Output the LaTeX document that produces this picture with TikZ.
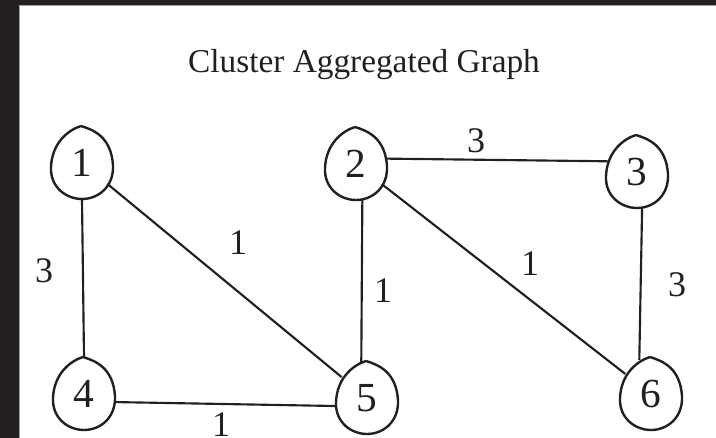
\documentclass[tikz,border=0pt]{standalone}
\usepackage{fontspec}
\setmainfont{Liberation Serif}
\usepackage{tikz}
\usetikzlibrary{shapes.geometric}
\definecolor{cInk}{RGB}{35,31,32}
\definecolor{cFrame}{RGB}{35,31,32}
\definecolor{cFrameEdge}{RGB}{160,160,160}
\tikzset{
  %% cluster nodes (ellipse is only the anchor shape, outline drawn below)
  cnode/.style={ellipse, draw=none, minimum width=45.75pt, minimum height=54.75pt,
                inner sep=0pt, font=\fontsize{31}{34}\selectfont, text=cInk},
  blobline/.style={draw=cInk, line width=1.8pt},
  %% edges and weights
  edge/.style={draw=cInk, line width=1.6pt},
  wlabel/.style={font=\fontsize{27}{30}\selectfont, text=cInk, inner sep=0pt},
}

\begin{document}
\begin{tikzpicture}[x=0.75pt, y=-0.75pt]

\useasboundingbox (0,0) rectangle (716,438);

%% -- frame (left and top bars) --
\fill[cFrame] (0,0) rectangle (19,438);
\fill[cFrame] (0,0) rectangle (716,5);
\draw[cFrameEdge, line width=0.75pt] (19.5,438) -- (19.5,5.5) -- (716,5.5);

%% -- title --
\node[font=\fontsize{25}{30}\selectfont, text=cInk, anchor=base] (title) at (364,73)
  {Cluster Aggregated Graph};

%% --- nodes ---
\node[cnode] (n1) at ( 82,163) {1};
\node[cnode] (n2) at (356,164) {2};
\node[cnode] (n3) at (637,172) {3};
\node[cnode] (n4) at ( 84,394) {4};
\node[cnode] (n5) at (367,398) {5};
\node[cnode] (n6) at (651,394) {6};

%% -- teardrop outlines --
\foreach \n in {n1,n2,n3,n4,n5,n6}
  \draw[blobline, shift={(\n)}]
    (-1,-37) .. controls (12,-33) and (29,-26) .. (31,2)
             .. controls (32,24) and (16,36) .. (0,36)
             .. controls (-16,36) and (-32,24) .. (-31,4)
             .. controls (-30,-20) and (-14,-33) .. (-1,-37);

%% -- edges --
\draw[edge] (n1.south) -- (n4.north);
\draw[edge] (n1) -- (n5);
\draw[edge] (n2.10) -- (n3.160);
\draw[edge] (n2.-80) -- (n5.99);
\draw[edge] (n2) -- (n6);
\draw[edge] (n3.-82) -- (n6.109);
\draw[edge] (n4.-15) -- (n5.195);

%% -- weights --
\node[wlabel] (w14) at ( 44,271) {3};
\node[wlabel] (w15) at (238,243) {1};
\node[wlabel] (w23) at (476,141) {3};
\node[wlabel] (w25) at (383,291) {1};
\node[wlabel] (w26) at (530,264) {1};
\node[wlabel] (w36) at (677,285) {3};
\node[wlabel] (w45) at (221,425) {1};

\end{tikzpicture}
\end{document}
